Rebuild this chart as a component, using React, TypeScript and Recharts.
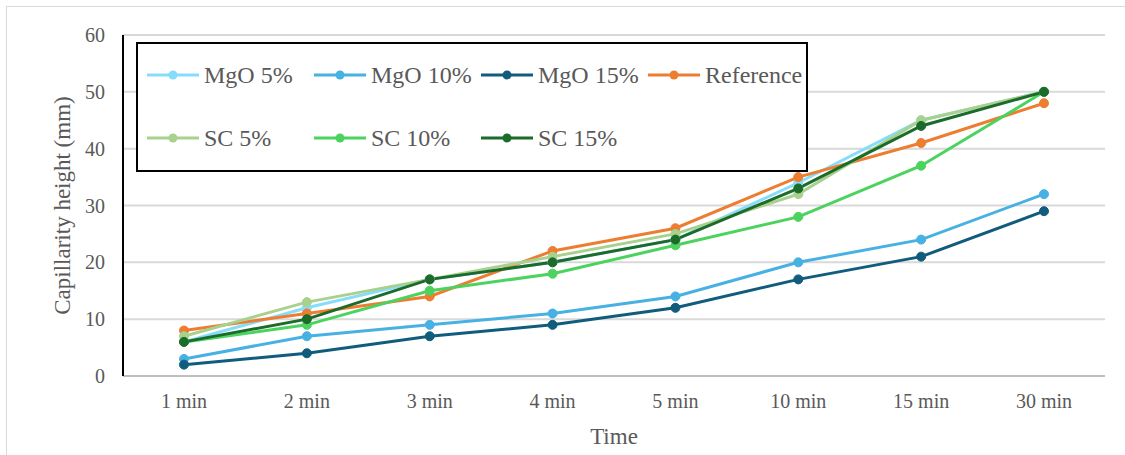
import {
  CartesianGrid,
  Legend,
  Line,
  LineChart,
  XAxis,
  YAxis,
} from "recharts";

const CATEGORIES = ["1 min", "2 min", "3 min", "4 min", "5 min", "10 min", "15 min", "30 min"];
const MGO_5 = [6, 12, 17, 20, 24, 34, 45, 50];
const MGO_10 = [3, 7, 9, 11, 14, 20, 24, 32];
const MGO_15 = [2, 4, 7, 9, 12, 17, 21, 29];
const REFERENCE = [8, 11, 14, 22, 26, 35, 41, 48];
const SC_5 = [7, 13, 17, 21, 25, 32, 45, 50];
const SC_10 = [6, 9, 15, 18, 23, 28, 37, 50];
const SC_15 = [6, 10, 17, 20, 24, 33, 44, 50];
const Y_TICKS = [0, 10, 20, 30, 40, 50, 60];

const SERIES = [
  { key: "mgo5", name: "MgO 5%", values: MGO_5, color: "#86DCFA" },
  { key: "mgo10", name: "MgO 10%", values: MGO_10, color: "#47B1E3" },
  { key: "mgo15", name: "MgO 15%", values: MGO_15, color: "#115C7D" },
  { key: "ref", name: "Reference", values: REFERENCE, color: "#ED7D31" },
  { key: "sc5", name: "SC 5%", values: SC_5, color: "#A9D18E" },
  { key: "sc10", name: "SC 10%", values: SC_10, color: "#4CD35F" },
  { key: "sc15", name: "SC 15%", values: SC_15, color: "#1B6B2A" },
];

const data = CATEGORIES.map((time, i) => {
  const row: Record<string, string | number> = { time };
  SERIES.forEach((s) => {
    row[s.key] = s.values[i];
  });
  return row;
});

const FONT = "'Liberation Serif', 'Times New Roman', serif";
const TEXT = "#595959";

function LegendBox() {
  return (
    <div
      style={{
        position: "absolute",
        left: 136,
        top: 42,
        width: 668,
        height: 126,
        border: "2px solid #000",
        background: "#fff",
        fontFamily: FONT,
        fontSize: 24,
        color: TEXT,
      }}
    >
      {SERIES.map((s, i) => (
        <div
          key={s.key}
          style={{
            position: "absolute",
            left: 8 + (i % 4) * 167,
            top: i < 4 ? 16 : 79,
            display: "flex",
            alignItems: "center",
            height: 30,
            whiteSpace: "nowrap",
          }}
        >
          <svg width={54} height={12} style={{ marginRight: 4 }}>
            <line x1={1} y1={6} x2={53} y2={6} stroke={s.color} strokeWidth={3} />
            <circle cx={27} cy={6} r={4.5} fill={s.color} />
          </svg>
          <span>{s.name}</span>
        </div>
      ))}
    </div>
  );
}

export default function App() {
  return (
    <div style={{ position: "absolute", left: 0, top: 0, width: 1125, height: 455, background: "#fff" }}>
      <div
        style={{
          position: "absolute",
          left: 6,
          top: 6,
          width: 1125,
          height: 455,
          borderLeft: "1px solid #D9D9D9",
          borderTop: "1px solid #D9D9D9",
        }}
      />
      <LineChart
        width={1125}
        height={455}
        data={data}
        margin={{ top: 35, right: 20, left: 0, bottom: 0 }}
        style={{ position: "absolute", left: 0, top: 0 }}
      >
        <CartesianGrid horizontal vertical={false} stroke="#D9D9D9" strokeWidth={2} />
        <XAxis
          dataKey="time"
          height={79}
          padding={{ left: 61, right: 61 }}
          tickLine={false}
          tickSize={0}
          tickMargin={18}
          axisLine={{ stroke: "#BFBFBF", strokeWidth: 2 }}
          tick={{ fill: TEXT, fontSize: 20, fontFamily: FONT }}
          interval={0}
          label={{
            value: "Time",
            position: "insideBottom",
            offset: 11,
            style: { fill: TEXT, fontSize: 23, fontFamily: FONT },
          }}
        />
        <XAxis xAxisId="top" orientation="top" height={0} tick={false} tickLine={false} axisLine={{ stroke: "#000", strokeWidth: 2 }} />
        <YAxis
          width={123}
          domain={[0, 60]}
          ticks={Y_TICKS}
          tickLine={false}
          tickSize={0}
          tickMargin={18}
          axisLine={{ stroke: "#000", strokeWidth: 2 }}
          tick={{ fill: TEXT, fontSize: 20, fontFamily: FONT }}
          label={{
            value: "Capillarity height (mm)",
            angle: -90,
            position: "center",
            style: { fill: TEXT, fontSize: 23, fontFamily: FONT },
          }}
        />
        <YAxis yAxisId="right" orientation="right" width={0} tick={false} tickLine={false} axisLine={{ stroke: "#000", strokeWidth: 2 }} />
        {SERIES.map((s) => (
          <Line
            key={s.key}
            type="linear"
            dataKey={s.key}
            name={s.name}
            stroke={s.color}
            strokeWidth={3}
            dot={{ r: 4.5, fill: s.color, stroke: s.color, strokeWidth: 1 }}
            activeDot={false}
            isAnimationActive={false}
          />
        ))}
        <Legend
          layout="horizontal"
          verticalAlign="middle"
          align="center"
          wrapperStyle={{ left: 0, top: 0, width: 0, height: 0 }}
          content={() => <LegendBox />}
        />
      </LineChart>
    </div>
  );
}
